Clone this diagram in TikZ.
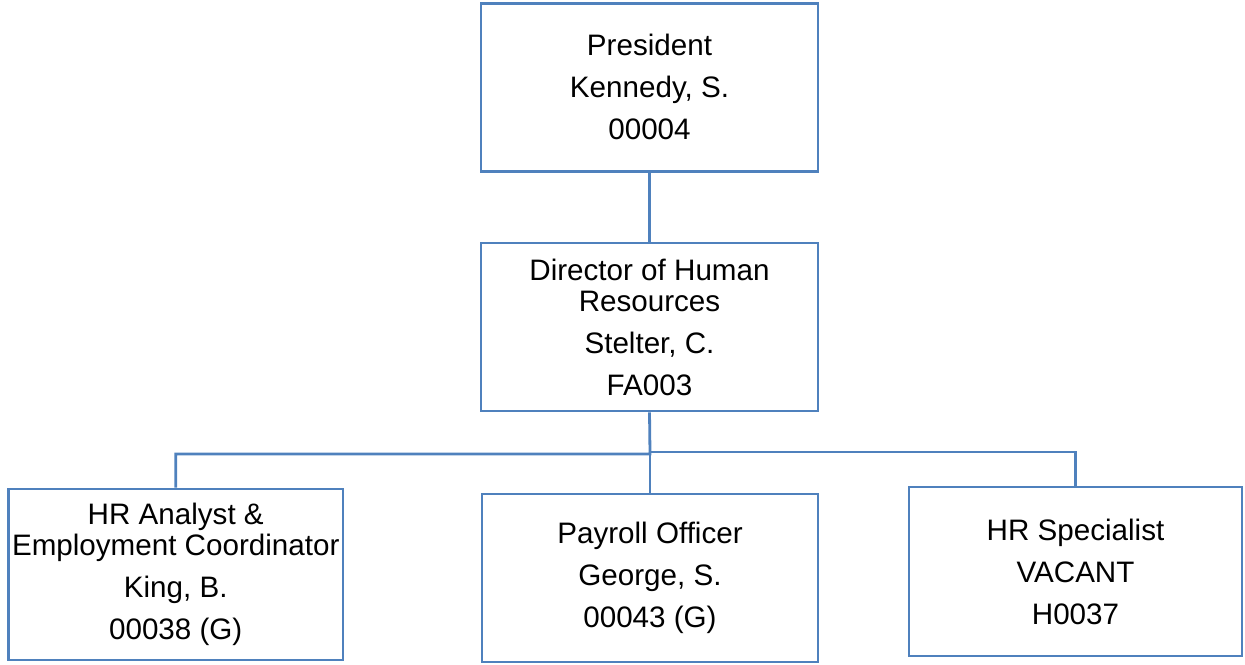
\documentclass[tikz,border=0pt]{standalone}
\usepackage{fontspec}
\setmainfont{Liberation Sans}
\usepackage{xcolor}
\definecolor{boxblue}{RGB}{79,129,189}

\begin{document}
\begin{tikzpicture}[x=0.5pt,y=-0.5pt,
    font=\fontsize{14.8pt}{15.5pt}\selectfont,
    post/.style={draw=boxblue,line width=1.4pt,rectangle,align=center,inner sep=0pt},
    link/.style={draw=boxblue,line width=1.4pt}]
    \useasboundingbox (0,0) rectangle (1245,664);
    % boxes
    \node[post,minimum width=168.5pt,minimum height=84pt] (pres) at (649.5,87.25)
      {President\\[5.5pt]Kennedy, S.\\[5.5pt]00004};
    \node[post,minimum width=168.5pt,minimum height=84pt] (dir) at (649.5,327)
      {Director of Human\\Resources\\[5.5pt]Stelter, C.\\[5.5pt]FA003};
    \node[post,minimum width=167.25pt,minimum height=85.5pt] (analyst) at (175.75,574.5)
      {HR Analyst \&\\Employment Coordinator\\[5.5pt]King, B.\\[5.5pt]00038 (G)};
    \node[post,minimum width=168pt,minimum height=84pt] (payroll) at (650,578)
      {Payroll Officer\\[5.5pt]George, S.\\[5.5pt]00043 (G)};
    \node[post,minimum width=166.5pt,minimum height=84.5pt] (spec) at (1075.5,571.5)
      {HR Specialist\\[5.5pt]VACANT\\[5.5pt]H0037};
    % connectors
    \coordinate (busL) at (650,454);
    \coordinate (busR) at (650,452);
    \draw[link] (pres.south) -- (dir.north);
    \draw[link] (dir.south) -- (busL) -| (analyst.north);
    \draw[link] (busR) -| (spec.north);
    \draw[link] (busL) -- (payroll.north);
  \end{tikzpicture}
\end{document}
